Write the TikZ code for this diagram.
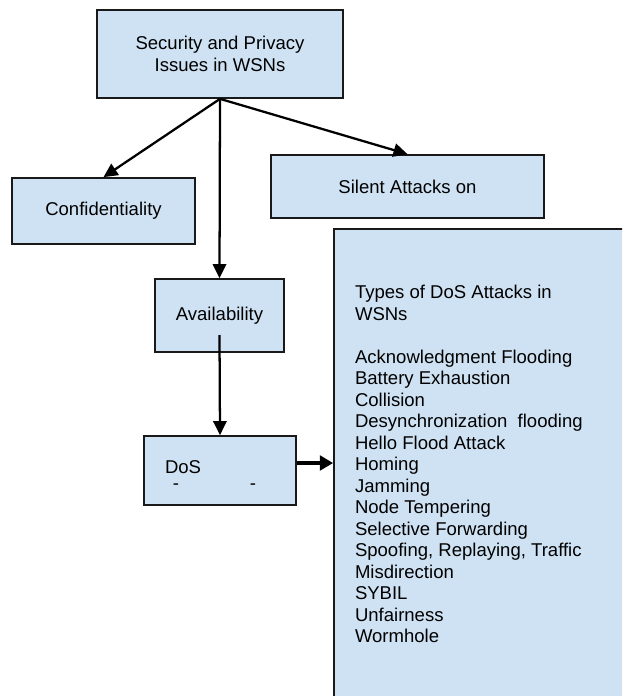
\documentclass[tikz,border=0pt]{standalone}
\usepackage{fontspec}
\setmainfont{Liberation Sans}
\usetikzlibrary{arrows.meta,calc}
\definecolor{boxfill}{RGB}{207,226,243}
\definecolor{boxline}{RGB}{25,25,25}
\begin{document}
\begin{tikzpicture}[x=0.75pt,y=-0.75pt,
  font=\fontsize{13.9}{16.1}\selectfont,
  box/.style={draw=boxline,fill=boxfill,line width=1.3pt,rectangle,inner sep=0pt,align=center},
  conn/.style={line width=1.7pt,-{Triangle[length=10.5pt,width=10pt]}},
  thickconn/.style={line width=3.3pt,-{Triangle[length=10pt,width=11pt]}},
  plain/.style={inner sep=0pt,outer sep=0pt}]
\useasboundingbox (0,0) rectangle (622,696);
\clip (0,0) rectangle (622,696);
\fill[white] (0,0) rectangle (622,696);

% boxes
\node[box,minimum width=246*0.75pt,minimum height=88*0.75pt] (top) at (220,54)
  {Security and Privacy\\Issues in WSNs};
\node[box,minimum width=183*0.75pt,minimum height=66*0.75pt] (conf) at (103.5,211) {Confidentiality};
\node[box,minimum width=273*0.75pt,minimum height=63*0.75pt] (silent) at (407.5,186.5) {Silent Attacks on};
\node[box,minimum width=129*0.75pt,minimum height=73*0.75pt] (avail) at (219.5,315.5) {Availability};
\node[box,minimum width=152*0.75pt,minimum height=69*0.75pt] (dos) at (220,470.5) {};
\node[box,minimum width=330*0.75pt,minimum height=520*0.75pt] (types) at (499,489) {};

% DoS box text
\node[plain,anchor=base west] (dostext) at (165,473) {DoS};
\node[plain] (dasha) at (176,487) {-};
\node[plain] (dashb) at (253,487) {-};

% list of DoS attacks
\node[plain,anchor=north west,align=left,font=\fontsize{13.9}{16.125}\selectfont] (typelist) at (355,285.5)
  {Types of DoS Attacks in\\
   WSNs\\[16.125pt]
   Acknowledgment Flooding\\
   Battery Exhaustion\\
   Collision\\
   Desynchronization\ \ flooding\\
   Hello Flood Attack\\
   Homing\\
   Jamming\\
   Node Tempering\\
   Selective Forwarding\\
   Spoofing, Replaying, Traffic\\
   Misdirection\\
   SYBIL\\
   Unfairness\\
   Wormhole};

% connectors
\draw[conn] (top.south) -- (conf.north);
\draw[conn] (top.south) -- (silent.north);
\draw[conn] (top.south) -- (avail.north);
\coordinate (availstem) at ($(avail.center)+(0,19.5)$);
\draw[conn] (availstem) -- (dos.north);
\coordinate (dosout) at ($(dos.east)+(0,-7.5)$);
\draw[thickconn] (dosout) -- (dosout -| types.west);
\end{tikzpicture}
\end{document}
